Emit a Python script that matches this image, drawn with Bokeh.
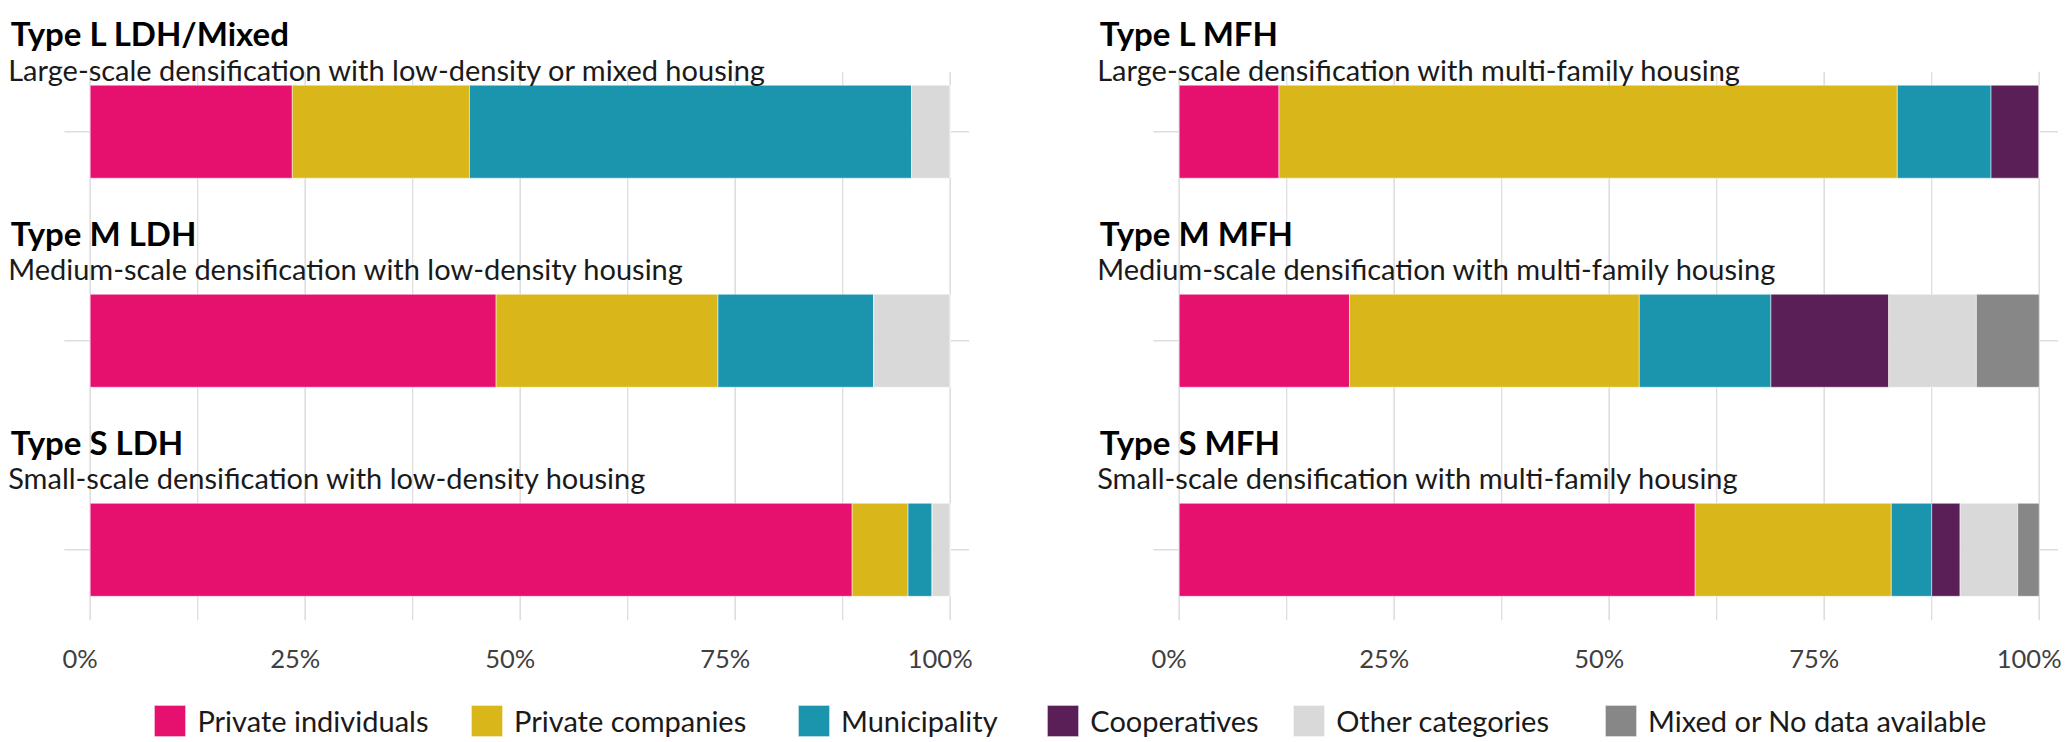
from bokeh.plotting import figure
from bokeh.models import (ColumnDataSource, Range1d, PrintfTickFormatter, FixedTicker,
                          LinearAxis, Legend, LegendItem)
from bokeh.layouts import row, column
from bokeh.embed import file_html
from bokeh.resources import INLINE
from bokeh.core.properties import value

# ---------------- data ----------------
CATEGORIES = ["Private individuals", "Private companies", "Municipality",
              "Cooperatives", "Other categories", "Mixed or No data available"]
KEYS = ["ind", "comp", "muni", "coop", "other", "mixed"]

LEFT_TYPES = ["Type L LDH/Mixed", "Type M LDH", "Type S LDH"]
LEFT_SUBTITLES = ["Large-scale densification with low-density or mixed housing",
                  "Medium-scale densification with low-density housing",
                  "Small-scale densification with low-density housing"]
RIGHT_TYPES = ["Type L MFH", "Type M MFH", "Type S MFH"]
RIGHT_SUBTITLES = ["Large-scale densification with multi-family housing",
                   "Medium-scale densification with multi-family housing",
                   "Small-scale densification with multi-family housing"]

# shares in percent (top to bottom: L, M, S)
LEFT_PRIVATE_INDIVIDUALS = [23.5, 47.2, 88.6]
LEFT_PRIVATE_COMPANIES = [20.6, 25.8, 6.5]
LEFT_MUNICIPALITY = [51.4, 18.1, 2.8]
LEFT_COOPERATIVES = [0.0, 0.0, 0.0]
LEFT_OTHER = [4.5, 8.9, 2.1]
LEFT_MIXED = [0.0, 0.0, 0.0]

RIGHT_PRIVATE_INDIVIDUALS = [11.6, 19.8, 60.0]
RIGHT_PRIVATE_COMPANIES = [71.9, 33.7, 22.8]
RIGHT_MUNICIPALITY = [10.9, 15.3, 4.7]
RIGHT_COOPERATIVES = [5.6, 13.7, 3.3]
RIGHT_OTHER = [0.0, 10.2, 6.7]
RIGHT_MIXED = [0.0, 7.3, 2.5]

X_TICKS = [0, 25, 50, 75, 100]
X_MINOR_TICKS = [12.5, 37.5, 62.5, 87.5]

# ---------------- style / layout ----------------
COLORS = ["#E6106F", "#D9B619", "#1B94AE", "#5A1F56", "#D9D9D9", "#878787"]
FONT = "Lato"
GRID_COLOR = "#DEDEDE"
PAGE_W = 2067
PAGE_H = 742
PX_PER_PCT = 8.6          # screen pixels per percentage point
ZERO_PX = [89.7, 138.7]   # position of 0% inside each figure
FIG_W = [1040, PAGE_W - 1040]
FIG_H = 680
FRAME_H = 620
ROW_PX = 209.05
TOP_PAD_PX = 131.2
BAR_PX = 93.0
GRID_TOP_PX = 60.0
TEXT_LEFT_PX = 79.5       # titles start this far left of 0%
TITLE_DY = [-98.2, -107.5, -107.5]
SUB_DY = [-62.7, -72.0, -72.0]
LABEL_SHIFT_PX = 10.0
LEG_H = PAGE_H - FIG_H
LEG_VY = 2
LEG_X = [150.4, 467.1, 794.0, 1043.3, 1289.2, 1601.1]


def make_panel(idx, types, subtitles, series):
    n = len(types)
    width = FIG_W[idx]
    data = dict(row=list(range(n)), title=types, subtitle=subtitles,
                tdy=TITLE_DY, sdy=SUB_DY)
    for k, s in zip(KEYS, series):
        data[k] = s
    src = ColumnDataSource(data)
    x_start = -ZERO_PX[idx] / PX_PER_PCT
    x_end = x_start + width / PX_PER_PCT
    y_top = -TOP_PAD_PX / ROW_PX
    y_bottom = y_top + FRAME_H / ROW_PX
    p = figure(width=width, height=FIG_H,
               x_range=Range1d(x_start, x_end), y_range=Range1d(y_bottom, y_top),
               output_backend="svg", toolbar_location=None,
               x_axis_location=None, y_axis_location=None,
               min_border_left=0, min_border_right=0, min_border_top=0,
               min_border_bottom=FIG_H - FRAME_H, outline_line_color=None,
               background_fill_color="white", border_fill_color="white")
    p.grid.visible = False

    gtop = -GRID_TOP_PX / ROW_PX
    # vertical grid lines
    p.segment(x0=X_MINOR_TICKS, x1=X_MINOR_TICKS, y0=[gtop] * len(X_MINOR_TICKS),
              y1=[y_bottom] * len(X_MINOR_TICKS), line_color=GRID_COLOR, line_width=1.3)
    p.segment(x0=X_TICKS, x1=X_TICKS, y0=[gtop] * len(X_TICKS),
              y1=[y_bottom] * len(X_TICKS), line_color=GRID_COLOR, line_width=1.6)
    # horizontal grid line at each bar
    p.segment(x0=-3.0, x1=102.2, y0="row", y1="row", source=src,
              line_color=GRID_COLOR, line_width=1.6)

    p.hbar_stack(KEYS, y="row", height=BAR_PX / ROW_PX, color=COLORS, source=src,
                 line_color="white", line_width=0.5)

    tx = -TEXT_LEFT_PX / PX_PER_PCT
    p.text(x=tx, y="row", text="title", source=src, x_offset=0, y_offset="tdy",
           text_font=value(FONT), text_font_style="bold", text_font_size="33px",
           text_baseline="alphabetic", text_align="left", text_color="#000000")
    p.text(x=tx, y="row", text="subtitle", source=src, x_offset=-2.5, y_offset="sdy",
           text_font=value(FONT), text_font_size="29px",
           text_baseline="alphabetic", text_align="left", text_color="#1A1A1A")

    shift = LABEL_SHIFT_PX / PX_PER_PCT
    p.extra_x_ranges = {"lab": Range1d(x_start + shift, x_end + shift)}
    ax = LinearAxis(x_range_name="lab", ticker=FixedTicker(ticks=X_TICKS),
                    formatter=PrintfTickFormatter(format="%d%%"),
                    axis_line_color=None, major_tick_line_color=None,
                    minor_tick_line_color=None, major_tick_in=0, major_tick_out=0,
                    major_label_standoff=22, major_label_text_font=FONT,
                    major_label_text_font_size="25.5px", major_label_text_color="#404040")
    p.add_layout(ax, "below")
    return p, src


left_series = [LEFT_PRIVATE_INDIVIDUALS, LEFT_PRIVATE_COMPANIES, LEFT_MUNICIPALITY,
               LEFT_COOPERATIVES, LEFT_OTHER, LEFT_MIXED]
right_series = [RIGHT_PRIVATE_INDIVIDUALS, RIGHT_PRIVATE_COMPANIES, RIGHT_MUNICIPALITY,
                RIGHT_COOPERATIVES, RIGHT_OTHER, RIGHT_MIXED]

p_left, src_left = make_panel(0, LEFT_TYPES, LEFT_SUBTITLES, left_series)
p_right, src_right = make_panel(1, RIGHT_TYPES, RIGHT_SUBTITLES, right_series)

# ---------------- legend strip ----------------
p_leg = figure(width=PAGE_W, height=LEG_H, x_range=Range1d(0, 1), y_range=Range1d(0, 1),
               output_backend="svg", toolbar_location=None,
               x_axis_location=None, y_axis_location=None,
               outline_line_color=None, min_border=0,
               background_fill_color="white", border_fill_color="white")
p_leg.grid.visible = False
# legend keys only: the stack is kept hidden, the bars are drawn in the panels above
leg_rs = p_leg.hbar_stack(KEYS, y="row", height=0.5, color=COLORS, source=src_right,
                          line_color="white", line_width=0.5)
for r in leg_rs:
    r.visible = False
for i, (cat, r) in enumerate(zip(CATEGORIES, leg_rs)):
    lg = Legend(items=[LegendItem(label=cat, renderers=[r])],
                orientation="horizontal", location=(LEG_X[i], LEG_VY),
                glyph_width=39, glyph_height=39, label_standoff=8,
                padding=0, margin=0, border_line_color=None,
                background_fill_alpha=0, inactive_fill_alpha=0,
                label_text_font=FONT, label_text_font_size="29px",
                label_text_color="#1A1A1A")
    p_leg.add_layout(lg)

layout = column(row(p_left, p_right), p_leg)

open("out.html", "w").write(file_html(layout, INLINE))
